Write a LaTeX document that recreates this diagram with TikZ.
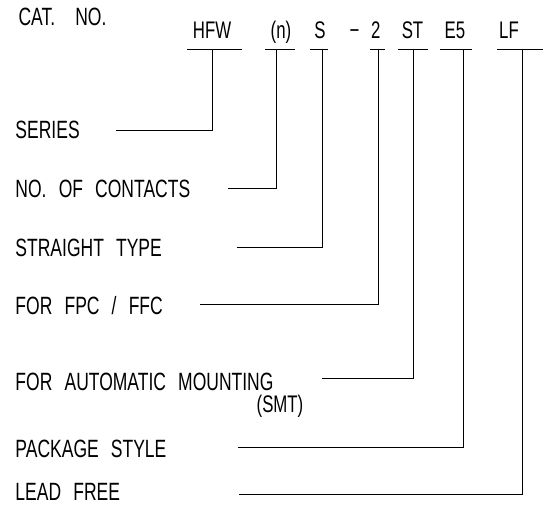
\documentclass[tikz,border=0pt]{standalone}
\usepackage{fontspec}
\setmainfont{Liberation Sans}[FakeStretch=0.7,WordSpace=2.5]
\begin{document}
\begin{tikzpicture}[x=1pt,y=-1pt,line width=1pt,
    lbl/.style={anchor=base west, inner sep=0pt, font=\fontsize{25}{28}\selectfont},
    code/.style={anchor=base, inner sep=0pt, font=\fontsize{24}{28}\selectfont}]
    \useasboundingbox (0,0) rectangle (546,506);

    % Catalogue number
    \node[lbl] (cat) at (18,25) {CAT.\hspace{8pt} NO.};
    \node[code] (hfw) at (212,38) {HFW};
    \node[code] (n) at (281,38) {(n)};
    \node[code] (s) at (320,38) {S};
    \node[code] (two) at (365,38) {− 2};
    \node[code] (st) at (412.5,38) {ST};
    \node[code] (e5) at (455,38) {E5};
    \node[code] (lf) at (509,38) {LF};

    % Underlines and tap points
    \foreach \name/\ua/\ub/\vx in {hfw/187/242/212, n/265/295/276, s/310/328/322,
        two/370/385/378, st/398/428/413, e5/440/472/463, lf/497/543/522} {
        \draw (\ua,49) -- (\ub,49);
        \coordinate (\name-tap) at (\vx,49);
    }

    % Descriptions
    \node[lbl] (series) at (15,138) {SERIES};
    \coordinate (series-end) at (116,130);
    \node[lbl] (contacts) at (15,197) {NO. OF CONTACTS};
    \coordinate (contacts-end) at (228,188);
    \node[lbl] (straight) at (15,256) {STRAIGHT TYPE};
    \coordinate (straight-end) at (237,247);
    \node[lbl] (fpc) at (15,314) {FOR FPC / FFC};
    \coordinate (fpc-end) at (200,304);
    \node[lbl] (smt) at (15,390) {FOR AUTOMATIC MOUNTING};
    \node[code] (smt2) at (280,412) {(SMT)};
    \coordinate (smt-end) at (322,378);
    \node[lbl] (pkg) at (15,457) {PACKAGE STYLE};
    \coordinate (pkg-end) at (238,447);
    \node[lbl] (lead) at (15,500) {LEAD FREE};
    \coordinate (lead-end) at (239,494);

    % Leaders
    \draw (hfw-tap) |- (series-end);
    \draw (n-tap) |- (contacts-end);
    \draw (s-tap) |- (straight-end);
    \draw (two-tap) |- (fpc-end);
    \draw (st-tap) |- (smt-end);
    \draw (e5-tap) |- (pkg-end);
    \draw (lf-tap) |- (lead-end);
\end{tikzpicture}
\end{document}
